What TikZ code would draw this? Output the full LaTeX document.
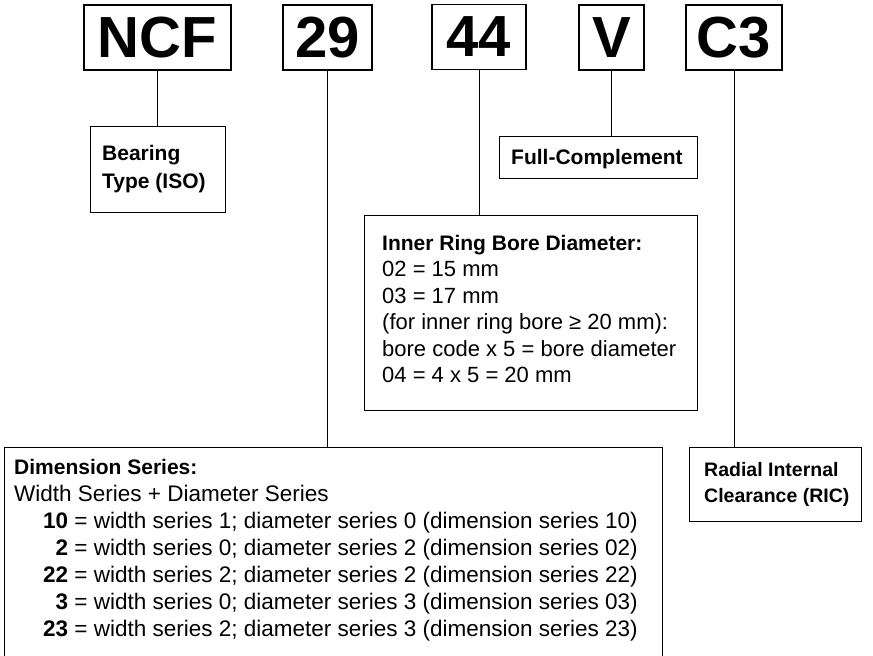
\documentclass[tikz,border=0pt]{standalone}
\usepackage{fontspec}
\setmainfont{Liberation Sans}
\begin{document}
\begin{tikzpicture}[x=1pt,y=-1pt,
  codebox/.style={draw, line width=1.1pt, minimum height=65pt, inner sep=0pt,
    font=\fontsize{58}{58}\selectfont\bfseries},
  framebox/.style={draw, line width=1pt, inner sep=0pt, anchor=north west},
  lbl/.style={anchor=north west, inner sep=0pt, align=left,
    font=\fontsize{22.5}{27}\selectfont},
  boldlbl/.style={lbl, font=\fontsize{21}{28}\selectfont\bfseries},
  conn/.style={line width=1pt}]
\useasboundingbox (0,0) rectangle (873,656);
\clip (0,0) rectangle (873,656);

% code boxes
\node[codebox, minimum width=147pt] (ncf) at (157.5,37.5) {NCF};
\node[codebox, minimum width=89pt]  (n29) at (327.5,37.5) {29};
\node[codebox, minimum width=94pt]  (n44) at (479,37) {44};
\node[codebox, minimum width=65pt]  (nv)  at (611.5,37.5) {V};
\node[codebox, minimum width=96pt]  (nc3) at (734,37.5) {C3};

% description frames
\node[framebox, minimum width=135pt, minimum height=86pt] (bear) at (90,126) {};
\node[framebox, minimum width=198pt, minimum height=42pt] (full) at (499,136) {};
\node[framebox, minimum width=333pt, minimum height=195pt] (inner) at (364,215) {};
\node[framebox, minimum width=658pt, minimum height=240pt] (dim) at (4,447) {};
\node[framebox, minimum width=172pt, minimum height=74pt] (ric) at (689,447) {};

% texts
\node[boldlbl] (beartxt) at (102,145) {Bearing\\Type (ISO)};
\node[boldlbl] (fulltxt) at (511,149) {Full-Complement};
\node[lbl, font=\fontsize{22}{26.4}\selectfont] (innertxt) at (382,235)
  {{\fontsize{21}{26.4}\selectfont\bfseries Inner Ring Bore Diameter:}\\
   02 = 15 mm\\
   03 = 17 mm\\
   (for inner ring bore ≥ 20 mm):\\
   bore code x 5 = bore diameter\\
   04 = 4 x 5 = 20 mm};
\node[lbl] (dimtxt) at (14,459)
  {{\fontsize{21}{27}\selectfont\bfseries Dimension Series:}\\
   Width Series + Diameter Series\\
   \makebox[54pt][r]{\textbf{10}} = width series 1; diameter series 0 (dimension series 10)\\
   \makebox[54pt][r]{\textbf{2}} = width series 0; diameter series 2 (dimension series 02)\\
   \makebox[54pt][r]{\textbf{22}} = width series 2; diameter series 2 (dimension series 22)\\
   \makebox[54pt][r]{\textbf{3}} = width series 0; diameter series 3 (dimension series 03)\\
   \makebox[54pt][r]{\textbf{23}} = width series 2; diameter series 3 (dimension series 23)};
\node[boldlbl, font=\fontsize{19.5}{26}\selectfont\bfseries] (rictxt) at (704,462) {Radial Internal\\Clearance (RIC)};

% connectors
\draw[conn] (ncf.south) -- (ncf.south |- bear.north);
\draw[conn] (n29.south) -- (n29.south |- dim.north);
\draw[conn] (n44.south) -- (n44.south |- inner.north);
\draw[conn] (nv.south) -- (nv.south |- full.north);
\draw[conn] (nc3.south) -- (nc3.south |- ric.north);
\end{tikzpicture}
\end{document}
